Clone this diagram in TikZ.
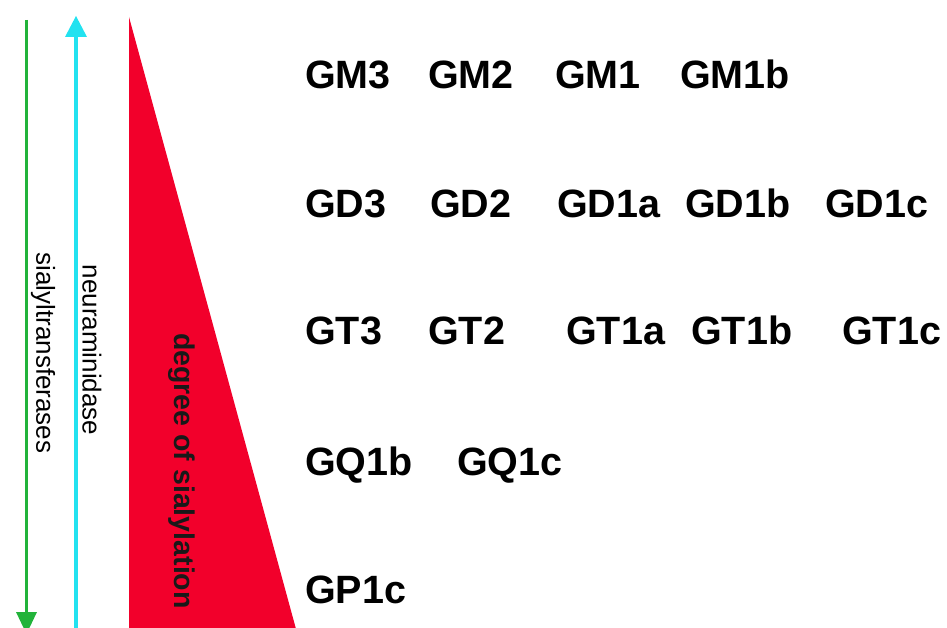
\documentclass[tikz,border=0pt]{standalone}
\usepackage{fontspec}
\setmainfont{Liberation Sans}
\definecolor{grn}{HTML}{22B33A}
\definecolor{cyn}{HTML}{22E2F0}
\definecolor{tri}{HTML}{F2002B}
\begin{document}
\begin{tikzpicture}[x=1pt,y=-1pt,
  lbl/.style={anchor=base west,inner sep=0pt,font=\fontsize{39.5}{40}\selectfont\bfseries},
  side/.style={inner sep=0pt,rotate=-90,font=\fontsize{26}{28}\selectfont},
  deg/.style={inner sep=0pt,rotate=-90,text=black!90,font=\fontsize{28.5}{30}\selectfont\bfseries}]
\useasboundingbox (0,0) rectangle (947,628);
\clip (0,0) rectangle (947,628);
% red triangle
\fill[tri] (129,17) -- (129,640) -- (299,640) -- cycle;
% green arrow (down)
\draw[grn,line width=3.5pt] (26.5,20) -- (26.5,614);
\fill[grn] (16,612) -- (37,612) -- (26.5,634) -- cycle;
% cyan arrow (up)
\draw[cyn,line width=3.5pt] (76,35) -- (76,640);
\fill[cyn] (65,37) -- (87,37) -- (76,16) -- cycle;
% side labels
\node[side] (sial) at (43,353) {sialyltransferases};
\node[side] (neur) at (92,350) {neuraminidase};
\node[deg] (degr) at (182,471) {degree of sialylation};
% row 1
\node[lbl] (gm3) at (305,89) {GM3};
\node[lbl] (gm2) at (428,89) {GM2};
\node[lbl] (gm1) at (555,89) {GM1};
\node[lbl] (gm1b) at (680,89) {GM1b};
% row 2
\node[lbl] (gd3) at (305,218) {GD3};
\node[lbl] (gd2) at (430,218) {GD2};
\node[lbl] (gd1a) at (557,218) {GD1a};
\node[lbl] (gd1b) at (685,218) {GD1b};
\node[lbl] (gd1c) at (825,218) {GD1c};
% row 3
\node[lbl] (gt3) at (305,344) {GT3};
\node[lbl] (gt2) at (428,344) {GT2};
\node[lbl] (gt1a) at (566,344) {GT1a};
\node[lbl] (gt1b) at (691,344) {GT1b};
\node[lbl] (gt1c) at (842,344) {GT1c};
% row 4
\node[lbl] (gq1b) at (305,475) {GQ1b};
\node[lbl] (gq1c) at (457,475) {GQ1c};
% row 5
\node[lbl] (gp1c) at (305,603) {GP1c};
\end{tikzpicture}
\end{document}
